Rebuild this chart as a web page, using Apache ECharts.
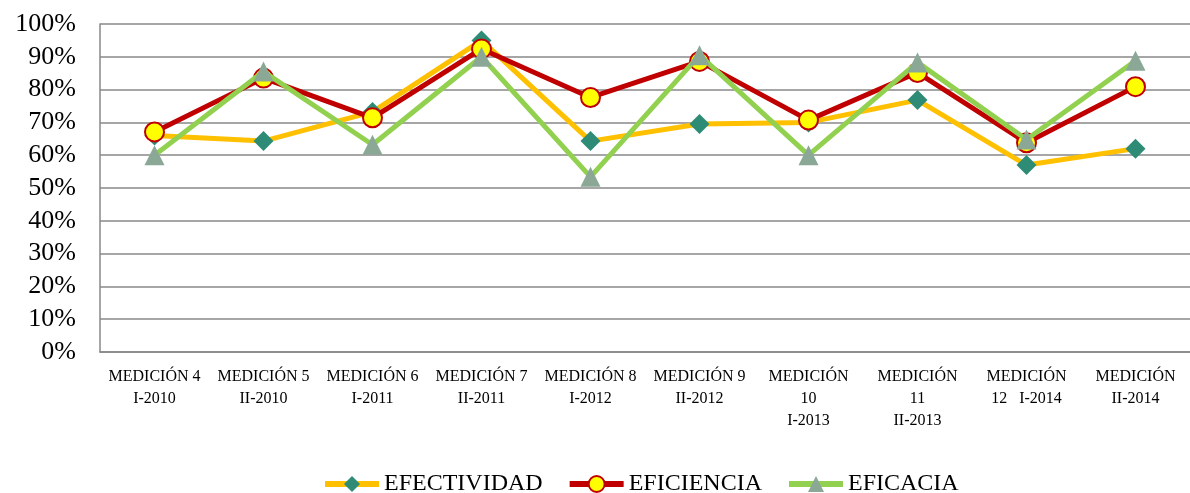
<!DOCTYPE html>
<html><head><meta charset="utf-8">
<script src="https://cdn.jsdelivr.net/npm/echarts@6/dist/echarts.min.js"></script>
<style>html,body{margin:0;padding:0;background:#fff}#c{width:1190px;height:493px}</style>
</head><body><div id="c"></div>
<script>
var categories = ['MEDICIÓN 4\nI-2010','MEDICIÓN 5\nII-2010','MEDICIÓN 6\nI-2011','MEDICIÓN 7\nII-2011','MEDICIÓN 8\nI-2012','MEDICIÓN 9\nII-2012','MEDICIÓN\n10\nI-2013','MEDICIÓN\n11\nII-2013','MEDICIÓN\n12   I-2014','MEDICIÓN\nII-2014'];
var efectividad = [66, 64.3, 73.2, 95, 64.3, 69.5, 70, 76.8, 57, 62];
var eficiencia = [67.1, 83.5, 71.4, 92.4, 77.6, 88.6, 70.7, 85.2, 63.8, 80.9];
var eficacia = [60, 85.5, 63.2, 90, 53.4, 90.5, 60, 88.3, 64.8, 88.8];
var yTicks = [0,10,20,30,40,50,60,70,80,90,100];

var F = 'Liberation Serif';
var chart = echarts.init(document.getElementById('c'));
chart.setOption({
  animation:false,
  grid:{left:100, right:-10, top:24, bottom:141},
  legend:{bottom:-3, left:322, padding:0, itemWidth:54, itemHeight:20, itemGap:24,
    lineStyle:{width:6},
    textStyle:{fontFamily:F, fontSize:24, color:'#000'},
    data:['EFECTIVIDAD','EFICIENCIA','EFICACIA']},
  xAxis:{type:'category', data:categories, boundaryGap:true,
    axisLine:{lineStyle:{color:'#888', width:1.5}}, axisTick:{show:false},
    axisLabel:{fontFamily:F, fontSize:16, color:'#000', lineHeight:22, margin:14, interval:0}},
  yAxis:{type:'value', min:yTicks[0], max:yTicks[yTicks.length-1], interval:10,
    axisLine:{show:true, lineStyle:{color:'#888', width:1.5}}, axisTick:{show:false},
    axisLabel:{fontFamily:F, fontSize:26, color:'#000', margin:24, formatter:function(v){return v+'%';}},
    splitLine:{lineStyle:{color:'#888', width:1.5}}},
  series:[
    {name:'EFECTIVIDAD', type:'line', data:efectividad, symbol:'diamond', symbolSize:20,
     lineStyle:{color:'#FFC000', width:5}, itemStyle:{color:'#2E8B76', borderWidth:0}, z:2},
    {name:'EFICIENCIA', type:'line', data:eficiencia, symbol:'circle', symbolSize:19,
     lineStyle:{color:'#C00000', width:5}, itemStyle:{color:'#FFFF00', borderColor:'#C00000', borderWidth:2}, z:3},
    {name:'EFICACIA', type:'line', data:eficacia, symbol:'triangle', symbolSize:[20,20],
     lineStyle:{color:'#92D050', width:5}, itemStyle:{color:'#8BA897', borderWidth:0}, z:4}
  ]
});
</script></body></html>
